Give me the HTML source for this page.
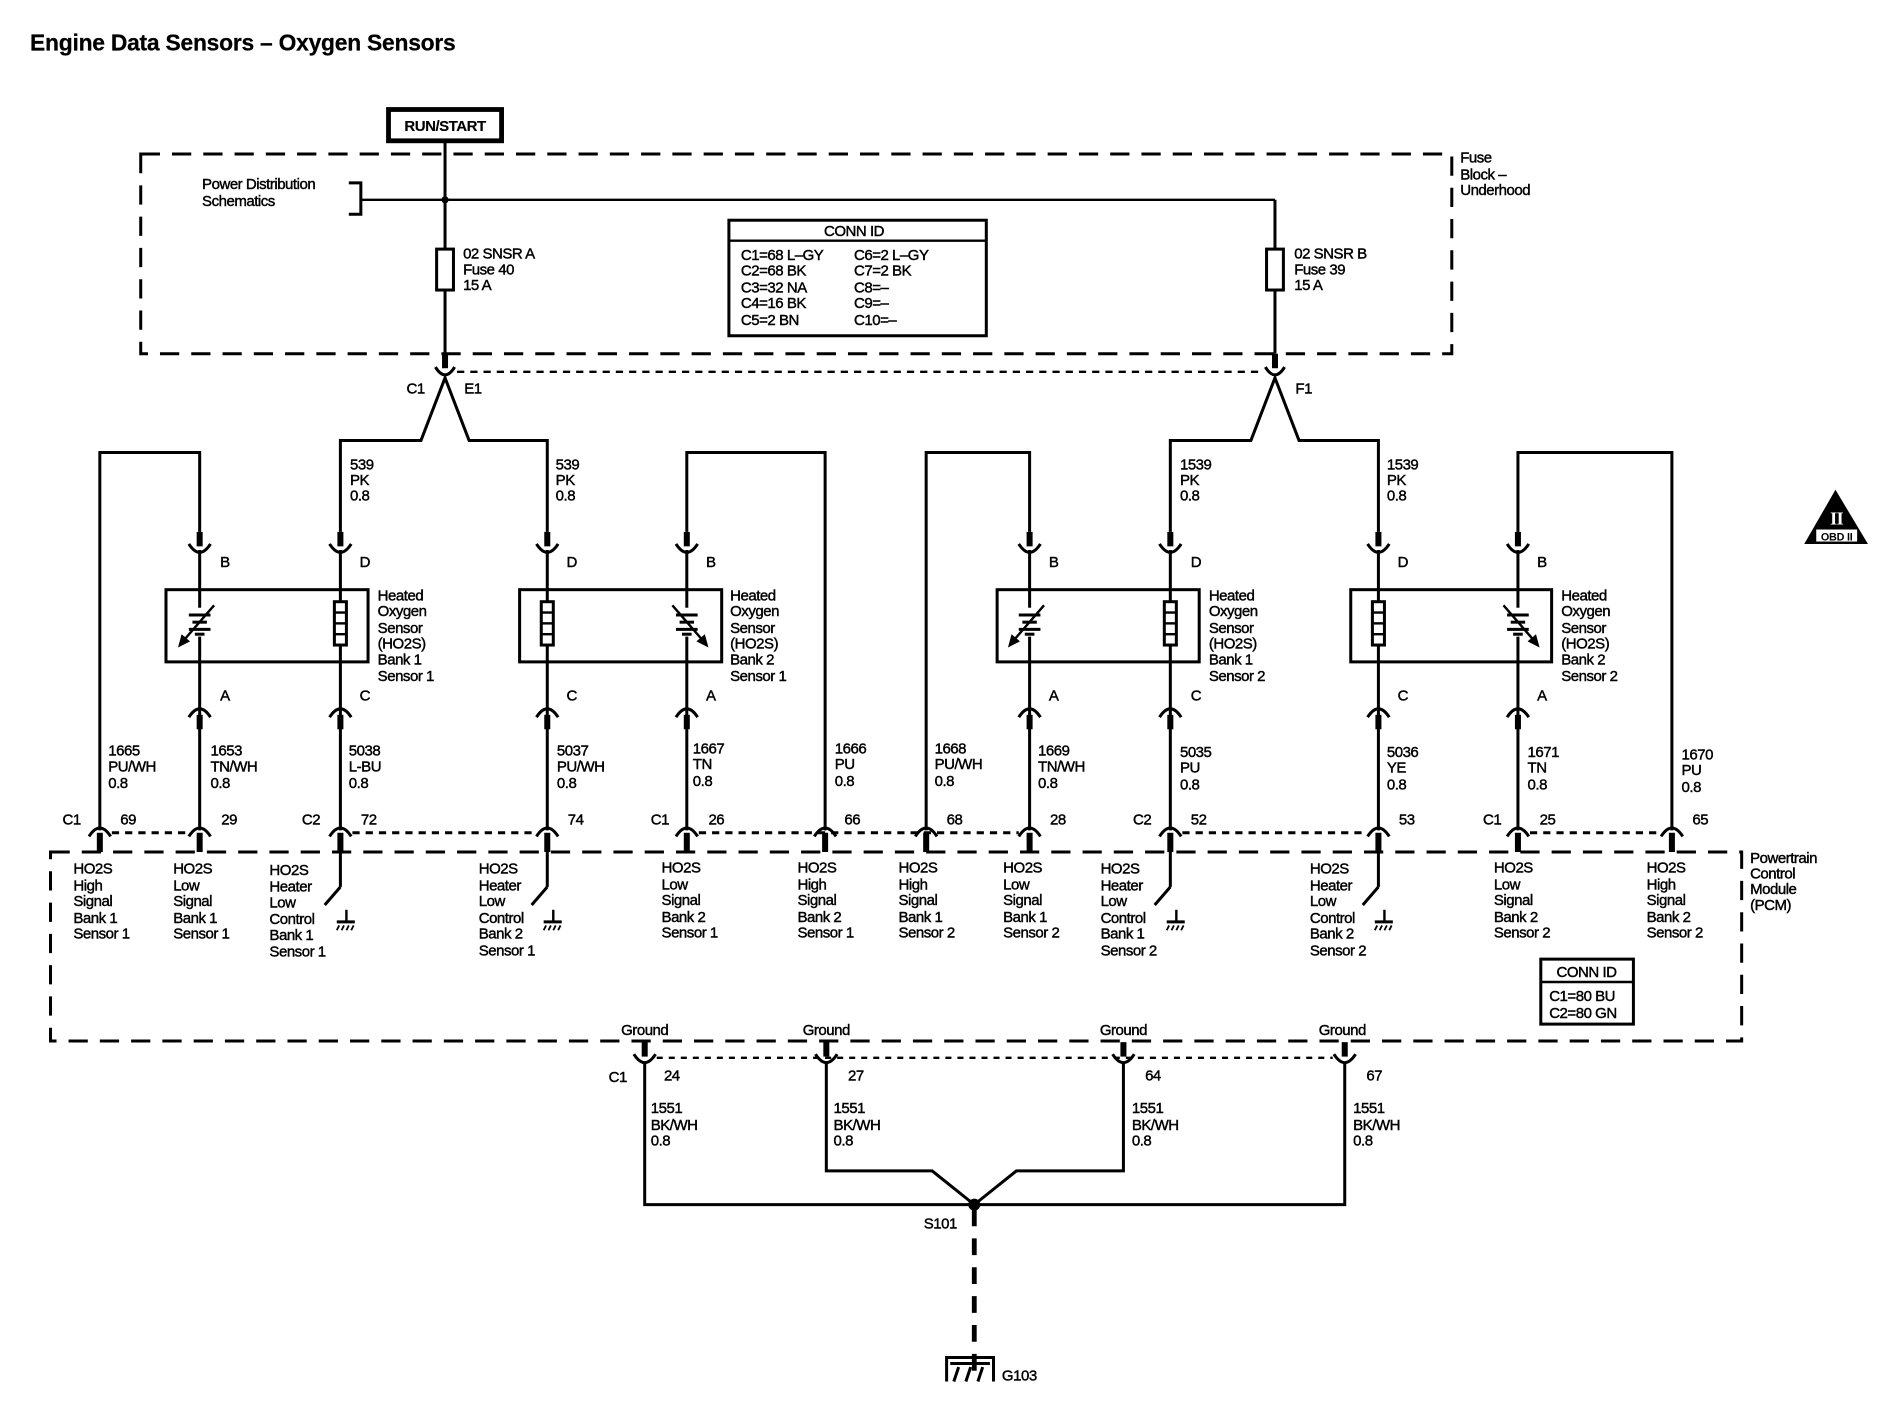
<!DOCTYPE html>
<html><head><meta charset="utf-8"><style>
html,body{margin:0;padding:0;background:#fff;}
svg{display:block}
text{font-family:"Liberation Sans",Arial,sans-serif;font-size:12.5px;fill:#000;stroke:#000;stroke-width:0.35px;letter-spacing:-0.4px}
</style></head><body>
<svg width="1886" height="1408" viewBox="0 0 1568 1170" preserveAspectRatio="none" xmlns="http://www.w3.org/2000/svg">
<defs>
<g id="cup"><line x1="0" y1="-15" x2="0" y2="-3" stroke="#000" stroke-width="5"/><path d="M-9,-5 Q0,9 9,-5" fill="none" stroke="#000" stroke-width="2.5"/></g>
<g id="cap"><path d="M-9,5 Q0,-9 9,5" fill="none" stroke="#000" stroke-width="2.5"/><line x1="0" y1="3" x2="0" y2="15" stroke="#000" stroke-width="5"/></g>
<g id="pcap"><path d="M-9,5 Q0,-9 9,5" fill="none" stroke="#000" stroke-width="2.5"/><line x1="0" y1="2" x2="0" y2="18" stroke="#000" stroke-width="5"/></g>
<g id="heater"><rect x="-5" y="-18" width="10" height="36" fill="#fff" stroke="#000" stroke-width="2.5"/><line x1="-5" y1="-9" x2="5" y2="-9" stroke="#000" stroke-width="2"/><line x1="-5" y1="0" x2="5" y2="0" stroke="#000" stroke-width="2"/><line x1="-5" y1="9" x2="5" y2="9" stroke="#000" stroke-width="2"/></g>
<g id="cellL"><rect x="-6" y="-12" width="12" height="24" fill="#fff"/><line x1="-9" y1="-6" x2="9" y2="-6" stroke="#000" stroke-width="2.5"/><line x1="-6" y1="0" x2="6" y2="0" stroke="#000" stroke-width="2.5"/><line x1="-9" y1="6" x2="9" y2="6" stroke="#000" stroke-width="2.5"/><line x1="-4" y1="10" x2="4" y2="10" stroke="#000" stroke-width="2.5"/><line x1="12" y1="-14" x2="-14" y2="16" stroke="#000" stroke-width="2"/><path d="M-18,21 L-15,10 L-8,16 Z" fill="#000"/></g>
<g id="cellR"><rect x="-6" y="-12" width="12" height="24" fill="#fff"/><line x1="-9" y1="-6" x2="9" y2="-6" stroke="#000" stroke-width="2.5"/><line x1="-6" y1="0" x2="6" y2="0" stroke="#000" stroke-width="2.5"/><line x1="-9" y1="6" x2="9" y2="6" stroke="#000" stroke-width="2.5"/><line x1="-4" y1="10" x2="4" y2="10" stroke="#000" stroke-width="2.5"/><line x1="-12" y1="-14" x2="14" y2="16" stroke="#000" stroke-width="2"/><path d="M18,21 L15,10 L8,16 Z" fill="#000"/></g>
<g id="sw"><line x1="0" y1="0" x2="0" y2="29" stroke="#000" stroke-width="2.5"/><line x1="0" y1="29" x2="-13" y2="44" stroke="#000" stroke-width="2.5"/><line x1="5" y1="48" x2="5" y2="58" stroke="#000" stroke-width="2"/><line x1="-3" y1="58" x2="12" y2="58" stroke="#000" stroke-width="2.5"/><path d="M-1,61 l-2,4 M3,61 l-2,4 M7,61 l-2,4 M11,61 l-2,4" stroke="#000" stroke-width="1.5"/></g>
</defs>

<text x="25" y="42" style="font-size:19px;font-weight:bold;letter-spacing:-0.2px;stroke-width:0.2px">Engine Data Sensors – Oxygen Sensors</text>

<rect x="323" y="91" width="94" height="26" fill="#fff" stroke="#000" stroke-width="4"/>
<text x="370" y="109" text-anchor="middle" style="font-weight:bold;font-size:12.5px;stroke-width:0.1px">RUN/START</text>

<rect x="117" y="128" width="1090" height="166" fill="none" stroke="#000" stroke-width="2.5" stroke-dasharray="16,10"/>
<text x="1214" y="135">Fuse</text><text x="1214" y="149">Block –</text><text x="1214" y="162">Underhood</text>
<text x="168" y="157">Power Distribution</text><text x="168" y="171">Schematics</text>
<path d="M290,152 H300 V178 H290" fill="none" stroke="#000" stroke-width="2.5"/>
<line x1="300" y1="166" x2="1060" y2="166" stroke="#000" stroke-width="2"/>
<line x1="1060" y1="166" x2="1060" y2="294" stroke="#000" stroke-width="2.5"/>
<line x1="370" y1="118" x2="370" y2="294" stroke="#000" stroke-width="2.5"/>
<circle cx="370" cy="166" r="3" fill="#000"/>
<rect x="363" y="207" width="14" height="34" fill="#fff" stroke="#000" stroke-width="2.5"/>
<rect x="1053" y="207" width="14" height="34" fill="#fff" stroke="#000" stroke-width="2.5"/>
<text x="385" y="215">02 SNSR A</text><text x="385" y="228">Fuse 40</text><text x="385" y="241">15 A</text>
<text x="1076" y="215">02 SNSR B</text><text x="1076" y="228">Fuse 39</text><text x="1076" y="241">15 A</text>

<rect x="606" y="183" width="214" height="96" fill="#fff" stroke="#000" stroke-width="2.5"/>
<line x1="606" y1="200" x2="820" y2="200" stroke="#000" stroke-width="2"/>
<text x="710" y="196" text-anchor="middle">CONN ID</text>
<text x="616" y="216">C1=68 L–GY</text><text x="710" y="216">C6=2 L–GY</text>
<text x="616" y="229">C2=68 BK</text><text x="710" y="229">C7=2 BK</text>
<text x="616" y="243">C3=32 NA</text><text x="710" y="243">C8=–</text>
<text x="616" y="256">C4=16 BK</text><text x="710" y="256">C9=–</text>
<text x="616" y="270">C5=2 BN</text><text x="710" y="270">C10=–</text>

<line x1="370" y1="294" x2="370" y2="306" stroke="#000" stroke-width="5"/>
<path d="M362,305 Q370,318 378,305" fill="none" stroke="#000" stroke-width="2.5"/>
<line x1="1060" y1="294" x2="1060" y2="306" stroke="#000" stroke-width="5"/>
<path d="M1052,305 Q1060,318 1068,305" fill="none" stroke="#000" stroke-width="2.5"/>
<line x1="380" y1="309" x2="1050" y2="309" stroke="#000" stroke-width="2" stroke-dasharray="6,5"/>
<text x="338" y="327">C1</text><text x="386" y="327">E1</text><text x="1077" y="327">F1</text>
<path d="M283,442 V366 H350 L370,314 L390,366 H455 V442" fill="none" stroke="#000" stroke-width="2.5"/>
<path d="M973,442 V366 H1040 L1060,314 L1080,366 H1146 V442" fill="none" stroke="#000" stroke-width="2.5"/>
<text x="291" y="390">539</text><text x="291" y="403">PK</text><text x="291" y="416">0.8</text>
<text x="462" y="390">539</text><text x="462" y="403">PK</text><text x="462" y="416">0.8</text>
<text x="981" y="390">1539</text><text x="981" y="403">PK</text><text x="981" y="416">0.8</text>
<text x="1153" y="390">1539</text><text x="1153" y="403">PK</text><text x="1153" y="416">0.8</text>

<g fill="none" stroke="#000" stroke-width="2.5">
<path d="M83,690 V376 H166 V442"/>
<path d="M686,690 V376 H571 V442"/>
<path d="M770,690 V376 H856 V442"/>
<path d="M1390,690 V376 H1262 V442"/>
<path d="M166,457 V690 M283,457 V690 M455,457 V690 M571,457 V690 M856,457 V690 M973,457 V690 M1146,457 V690 M1262,457 V690"/>
</g>

<g fill="none" stroke="#000" stroke-width="2.5">
<rect x="138" y="490" width="168" height="60"/>
<rect x="432" y="490" width="168" height="60"/>
<rect x="829" y="490" width="168" height="60"/>
<rect x="1123" y="490" width="167" height="60"/>
</g>
<use href="#cellL" x="166" y="517"/><use href="#heater" x="283" y="518"/>
<use href="#heater" x="455" y="518"/><use href="#cellR" x="571" y="517"/>
<use href="#cellL" x="856" y="517"/><use href="#heater" x="973" y="518"/>
<use href="#heater" x="1146" y="518"/><use href="#cellR" x="1262" y="517"/>

<g>
<text x="314" y="499">Heated</text><text x="314" y="512">Oxygen</text><text x="314" y="526">Sensor</text><text x="314" y="539">(HO2S)</text><text x="314" y="552">Bank 1</text><text x="314" y="566">Sensor 1</text>
<text x="607" y="499">Heated</text><text x="607" y="512">Oxygen</text><text x="607" y="526">Sensor</text><text x="607" y="539">(HO2S)</text><text x="607" y="552">Bank 2</text><text x="607" y="566">Sensor 1</text>
<text x="1005" y="499">Heated</text><text x="1005" y="512">Oxygen</text><text x="1005" y="526">Sensor</text><text x="1005" y="539">(HO2S)</text><text x="1005" y="552">Bank 1</text><text x="1005" y="566">Sensor 2</text>
<text x="1298" y="499">Heated</text><text x="1298" y="512">Oxygen</text><text x="1298" y="526">Sensor</text><text x="1298" y="539">(HO2S)</text><text x="1298" y="552">Bank 2</text><text x="1298" y="566">Sensor 2</text>
</g>

<use href="#cup" x="166" y="457"/><use href="#cup" x="283" y="457"/><use href="#cup" x="455" y="457"/><use href="#cup" x="571" y="457"/>
<use href="#cup" x="856" y="457"/><use href="#cup" x="973" y="457"/><use href="#cup" x="1146" y="457"/><use href="#cup" x="1262" y="457"/>
<use href="#cap" x="166" y="591"/><use href="#cap" x="283" y="591"/><use href="#cap" x="455" y="591"/><use href="#cap" x="571" y="591"/>
<use href="#cap" x="856" y="591"/><use href="#cap" x="973" y="591"/><use href="#cap" x="1146" y="591"/><use href="#cap" x="1262" y="591"/>
<text x="183" y="471">B</text><text x="299" y="471">D</text><text x="471" y="471">D</text><text x="587" y="471">B</text>
<text x="872" y="471">B</text><text x="990" y="471">D</text><text x="1162" y="471">D</text><text x="1278" y="471">B</text>
<text x="183" y="582">A</text><text x="299" y="582">C</text><text x="471" y="582">C</text><text x="587" y="582">A</text>
<text x="872" y="582">A</text><text x="990" y="582">C</text><text x="1162" y="582">C</text><text x="1278" y="582">A</text>

<text x="90" y="628">1665</text><text x="90" y="641">PU/WH</text><text x="90" y="655">0.8</text>
<text x="175" y="628">1653</text><text x="175" y="641">TN/WH</text><text x="175" y="655">0.8</text>
<text x="290" y="628">5038</text><text x="290" y="641">L-BU</text><text x="290" y="655">0.8</text>
<text x="463" y="628">5037</text><text x="463" y="641">PU/WH</text><text x="463" y="655">0.8</text>
<text x="576" y="626">1667</text><text x="576" y="639">TN</text><text x="576" y="653">0.8</text>
<text x="694" y="626">1666</text><text x="694" y="639">PU</text><text x="694" y="653">0.8</text>
<text x="777" y="626">1668</text><text x="777" y="639">PU/WH</text><text x="777" y="653">0.8</text>
<text x="863" y="628">1669</text><text x="863" y="641">TN/WH</text><text x="863" y="655">0.8</text>
<text x="981" y="629">5035</text><text x="981" y="642">PU</text><text x="981" y="656">0.8</text>
<text x="1153" y="629">5036</text><text x="1153" y="642">YE</text><text x="1153" y="656">0.8</text>
<text x="1270" y="629">1671</text><text x="1270" y="642">TN</text><text x="1270" y="656">0.8</text>
<text x="1398" y="631">1670</text><text x="1398" y="644">PU</text><text x="1398" y="658">0.8</text>

<rect x="42" y="708" width="1406" height="157" fill="none" stroke="#000" stroke-width="2.5" stroke-dasharray="16,10"/>
<g stroke="#000" stroke-width="2.5" stroke-dasharray="6,5">
<line x1="93" y1="692" x2="157" y2="692"/><line x1="293" y1="692" x2="446" y2="692"/>
<line x1="581" y1="692" x2="847" y2="692"/><line x1="983" y1="692" x2="1137" y2="692"/>
<line x1="1272" y1="692" x2="1381" y2="692"/>
</g>
<use href="#pcap" x="83" y="690"/><use href="#pcap" x="166" y="690"/><use href="#pcap" x="283" y="690"/><use href="#pcap" x="455" y="690"/>
<use href="#pcap" x="571" y="690"/><use href="#pcap" x="686" y="690"/><use href="#pcap" x="770" y="690"/><use href="#pcap" x="856" y="690"/>
<use href="#pcap" x="973" y="690"/><use href="#pcap" x="1146" y="690"/><use href="#pcap" x="1262" y="690"/><use href="#pcap" x="1390" y="690"/>
<text x="52" y="685">C1</text><text x="100" y="685">69</text><text x="184" y="685">29</text>
<text x="251" y="685">C2</text><text x="300" y="685">72</text><text x="472" y="685">74</text>
<text x="541" y="685">C1</text><text x="589" y="685">26</text><text x="702" y="685">66</text><text x="787" y="685">68</text><text x="873" y="685">28</text>
<text x="942" y="685">C2</text><text x="990" y="685">52</text><text x="1163" y="685">53</text>
<text x="1233" y="685">C1</text><text x="1280" y="685">25</text><text x="1407" y="685">65</text>
<use href="#sw" x="283" y="708"/><use href="#sw" x="455" y="708"/><use href="#sw" x="973" y="708"/><use href="#sw" x="1146" y="708"/>

<g>
<text x="61" y="726">HO2S</text><text x="61" y="740">High</text><text x="61" y="753">Signal</text><text x="61" y="767">Bank 1</text><text x="61" y="780">Sensor 1</text>
<text x="144" y="726">HO2S</text><text x="144" y="740">Low</text><text x="144" y="753">Signal</text><text x="144" y="767">Bank 1</text><text x="144" y="780">Sensor 1</text>
<text x="224" y="727">HO2S</text><text x="224" y="741">Heater</text><text x="224" y="754">Low</text><text x="224" y="768">Control</text><text x="224" y="781">Bank 1</text><text x="224" y="795">Sensor 1</text>
<text x="398" y="726">HO2S</text><text x="398" y="740">Heater</text><text x="398" y="753">Low</text><text x="398" y="767">Control</text><text x="398" y="780">Bank 2</text><text x="398" y="794">Sensor 1</text>
<text x="550" y="725">HO2S</text><text x="550" y="739">Low</text><text x="550" y="752">Signal</text><text x="550" y="766">Bank 2</text><text x="550" y="779">Sensor 1</text>
<text x="663" y="725">HO2S</text><text x="663" y="739">High</text><text x="663" y="752">Signal</text><text x="663" y="766">Bank 2</text><text x="663" y="779">Sensor 1</text>
<text x="747" y="725">HO2S</text><text x="747" y="739">High</text><text x="747" y="752">Signal</text><text x="747" y="766">Bank 1</text><text x="747" y="779">Sensor 2</text>
<text x="834" y="725">HO2S</text><text x="834" y="739">Low</text><text x="834" y="752">Signal</text><text x="834" y="766">Bank 1</text><text x="834" y="779">Sensor 2</text>
<text x="915" y="726">HO2S</text><text x="915" y="740">Heater</text><text x="915" y="753">Low</text><text x="915" y="767">Control</text><text x="915" y="780">Bank 1</text><text x="915" y="794">Sensor 2</text>
<text x="1089" y="726">HO2S</text><text x="1089" y="740">Heater</text><text x="1089" y="753">Low</text><text x="1089" y="767">Control</text><text x="1089" y="780">Bank 2</text><text x="1089" y="794">Sensor 2</text>
<text x="1242" y="725">HO2S</text><text x="1242" y="739">Low</text><text x="1242" y="752">Signal</text><text x="1242" y="766">Bank 2</text><text x="1242" y="779">Sensor 2</text>
<text x="1369" y="725">HO2S</text><text x="1369" y="739">High</text><text x="1369" y="752">Signal</text><text x="1369" y="766">Bank 2</text><text x="1369" y="779">Sensor 2</text>
</g>
<text x="1455" y="717">Powertrain</text><text x="1455" y="730">Control</text><text x="1455" y="743">Module</text><text x="1455" y="756">(PCM)</text>

<rect x="1281" y="797" width="77" height="54" fill="#fff" stroke="#000" stroke-width="2.5"/>
<line x1="1281" y1="816" x2="1358" y2="816" stroke="#000" stroke-width="2"/>
<text x="1319" y="812" text-anchor="middle">CONN ID</text>
<text x="1288" y="832">C1=80 BU</text><text x="1288" y="846">C2=80 GN</text>

<path d="M1526,407 L1500,452 L1553,452 Z" fill="#000"/>
<text x="1527" y="436" text-anchor="middle" style="fill:#fff;stroke:none;font-family:'Liberation Serif',serif;font-size:15px;font-weight:bold">II</text>
<rect x="1510" y="440" width="34" height="10" fill="#fff"/>
<text x="1527" y="449" text-anchor="middle" style="font-size:9px;font-weight:bold;letter-spacing:-0.2px;stroke:none">OBD II</text>

<text x="536" y="860" text-anchor="middle">Ground</text><text x="687" y="860" text-anchor="middle">Ground</text>
<text x="934" y="860" text-anchor="middle">Ground</text><text x="1116" y="860" text-anchor="middle">Ground</text>
<use href="#cup" x="536" y="881"/><use href="#cup" x="687" y="881"/><use href="#cup" x="934" y="881"/><use href="#cup" x="1118" y="881"/>
<line x1="546" y1="879" x2="1108" y2="879" stroke="#000" stroke-width="2" stroke-dasharray="5,5"/>
<text x="506" y="899">C1</text><text x="552" y="898">24</text><text x="705" y="898">27</text><text x="952" y="898">64</text><text x="1136" y="898">67</text>
<g fill="none" stroke="#000" stroke-width="2.5">
<path d="M536,884 V1001 H1118 V884"/>
<path d="M687,884 V973 H775 L810,1001 L845,973 H934 V884"/>
</g>
<circle cx="810" cy="1001" r="5" fill="#000"/>
<text x="541" y="925">1551</text><text x="541" y="939">BK/WH</text><text x="541" y="952">0.8</text>
<text x="693" y="925">1551</text><text x="693" y="939">BK/WH</text><text x="693" y="952">0.8</text>
<text x="941" y="925">1551</text><text x="941" y="939">BK/WH</text><text x="941" y="952">0.8</text>
<text x="1125" y="925">1551</text><text x="1125" y="939">BK/WH</text><text x="1125" y="952">0.8</text>
<text x="768" y="1021">S101</text>
<line x1="810" y1="1005" x2="810" y2="1140" stroke="#000" stroke-width="4" stroke-dasharray="14,10"/>
<path d="M787,1148 V1128 H826 V1148" fill="none" stroke="#000" stroke-width="2.5"/>
<line x1="790" y1="1133" x2="823" y2="1133" stroke="#000" stroke-width="2.5"/>
<path d="M797,1136 l-4,12 M807,1136 l-4,12 M817,1136 l-4,12" stroke="#000" stroke-width="2.5"/>
<text x="833" y="1147">G103</text>
</svg>
</body></html>
